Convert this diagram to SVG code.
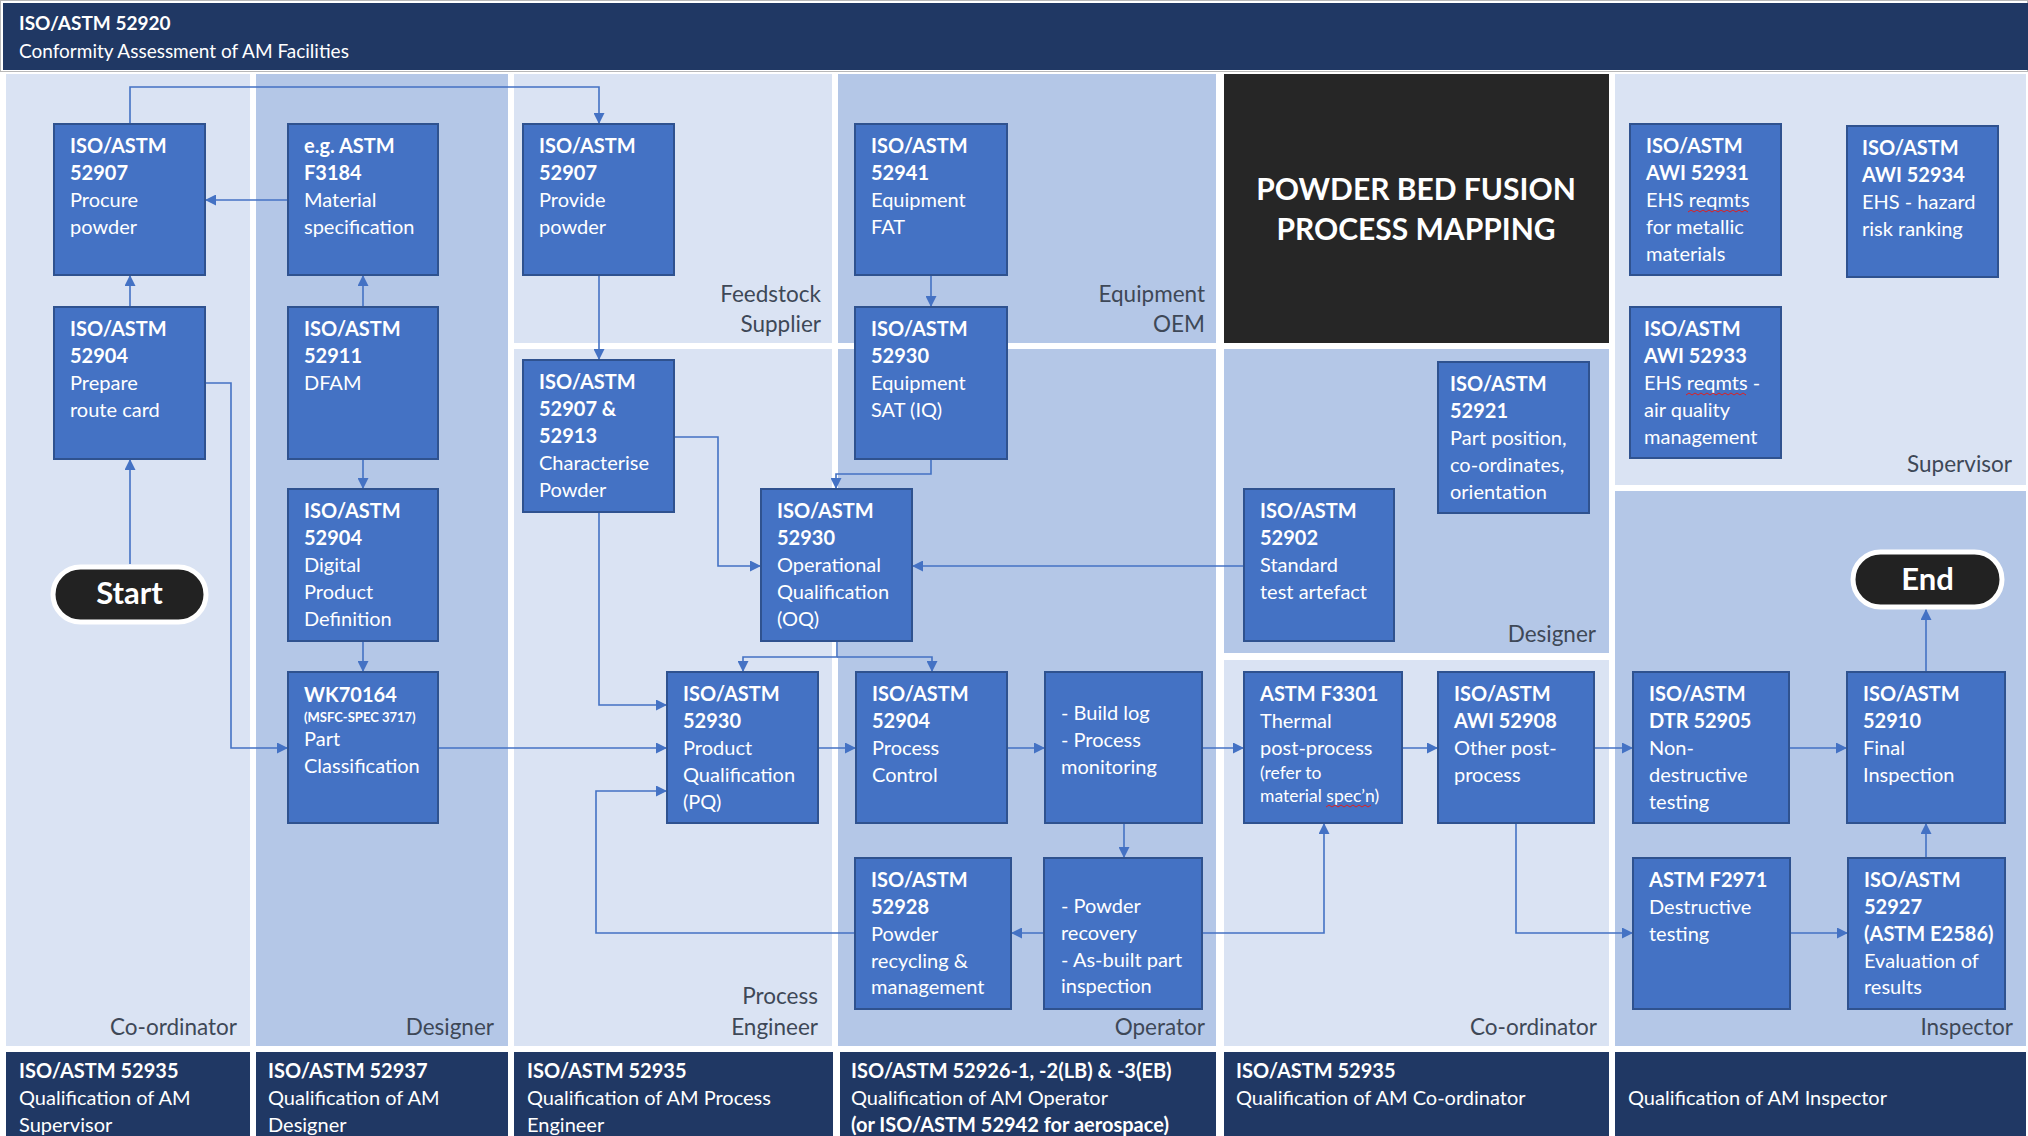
<svg xmlns="http://www.w3.org/2000/svg" width="2028" height="1136" viewBox="0 0 2028 1136">
<defs>
<style>
.lane-l{fill:#DAE3F3}
.lane-m{fill:#B4C7E7}
.navy{fill:#203864}
.box{fill:#4472C4;stroke:#2F528F;stroke-width:2}
.t{font-family:Lato,"Open Sans","Liberation Sans",sans-serif;font-size:20px;fill:#FFFFFF}
.b{font-weight:bold}
.lab{font-family:Lato,"Open Sans","Liberation Sans",sans-serif;font-size:22.5px;fill:#3E4857;text-anchor:end}
.ft{font-family:Lato,"Open Sans","Liberation Sans",sans-serif;font-size:20px;fill:#FFFFFF}
.conn{fill:none;stroke:#4472C4;stroke-width:1.6}
.sq{fill:none;stroke:#E02020;stroke-width:1}
.pill{fill:#222222;stroke:#FFFFFF;stroke-width:5}
</style>
<marker id="arr" viewBox="0 0 10 10" refX="10" refY="5" markerWidth="11" markerHeight="11" markerUnits="userSpaceOnUse" orient="auto">
<path d="M0,0 L10,5 L0,10 z" fill="#4472C4"/>
</marker>
</defs>
<rect x="0" y="0" width="2028" height="1136" fill="#FFFFFF"/>
<!-- title bar -->
<rect x="0.5" y="0.5" width="2027" height="71" fill="none" stroke="#B8B8B8" stroke-width="1"/>
<rect x="3" y="3" width="2025" height="67" class="navy"/>
<text x="19" y="30" class="t b" style="font-size:19px">ISO/ASTM 52920</text>
<text x="19" y="58" class="t" style="font-size:19px">Conformity Assessment of AM Facilities</text>

<!-- lanes -->
<g id="lanes">
<rect x="6" y="74" width="244" height="972" class="lane-l"/>
<rect x="256" y="74" width="252" height="972" class="lane-m"/>
<rect x="514" y="74" width="318" height="269" class="lane-l"/>
<rect x="514" y="349" width="318" height="697" class="lane-l"/>
<rect x="838" y="74" width="378" height="269" class="lane-m"/>
<rect x="838" y="349" width="378" height="697" class="lane-m"/>
<rect x="1224" y="74" width="385" height="269" fill="#262626"/>
<rect x="1224" y="349" width="385" height="304" class="lane-m"/>
<rect x="1224" y="660" width="385" height="386" class="lane-l"/>
<rect x="1615" y="74" width="411" height="411" class="lane-l"/>
<rect x="1615" y="491" width="411" height="555" class="lane-m"/>
</g>
<g id="lane-labels">
<text x="237" y="1035" class="lab">Co-ordinator</text>
<text x="494" y="1035" class="lab">Designer</text>
<text x="821" y="302" class="lab">Feedstock</text>
<text x="821" y="332" class="lab">Supplier</text>
<text x="1205" y="302" class="lab">Equipment</text>
<text x="1205" y="332" class="lab">OEM</text>
<text x="818" y="1004" class="lab">Process</text>
<text x="818" y="1035" class="lab">Engineer</text>
<text x="1205" y="1035" class="lab">Operator</text>
<text x="1596" y="642" class="lab">Designer</text>
<text x="1597" y="1035" class="lab">Co-ordinator</text>
<text x="2012" y="472" class="lab">Supervisor</text>
<text x="2013" y="1035" class="lab">Inspector</text>
</g>
<g id="title-block">
<text x="1416" y="200" class="t b" style="font-size:30px" text-anchor="middle">POWDER BED FUSION</text>
<text x="1416" y="240" class="t b" style="font-size:30px" text-anchor="middle">PROCESS MAPPING</text>
</g>

<!-- footer -->
<g id="footer">
<rect x="6" y="1052" width="244" height="84" class="navy"/>
<rect x="256" y="1052" width="252" height="84" class="navy"/>
<rect x="514" y="1052" width="319" height="84" class="navy"/>
<rect x="840" y="1052" width="376" height="84" class="navy"/>
<rect x="1224" y="1052" width="385" height="84" class="navy"/>
<rect x="1615" y="1052" width="411" height="84" class="navy"/>
<text x="19" y="1078" class="ft b">ISO/ASTM 52935</text>
<text x="19" y="1105" class="ft">Qualification of AM</text>
<text x="19" y="1132" class="ft">Supervisor</text>
<text x="268" y="1078" class="ft b">ISO/ASTM 52937</text>
<text x="268" y="1105" class="ft">Qualification of AM</text>
<text x="268" y="1132" class="ft">Designer</text>
<text x="527" y="1078" class="ft b">ISO/ASTM 52935</text>
<text x="527" y="1105" class="ft">Qualification of AM Process</text>
<text x="527" y="1132" class="ft">Engineer</text>
<text x="851" y="1078" class="ft b">ISO/ASTM 52926-1, -2(LB) &amp; -3(EB)</text>
<text x="851" y="1105" class="ft">Qualification of AM Operator</text>
<text x="851" y="1132" class="ft b">(or ISO/ASTM 52942 for aerospace)</text>
<text x="1236" y="1078" class="ft b">ISO/ASTM 52935</text>
<text x="1236" y="1105" class="ft">Qualification of AM Co-ordinator</text>
<text x="1628" y="1105" class="ft">Qualification of AM Inspector</text>
</g>

<!-- connectors -->
<g id="connectors">
<path class="conn" d="M130,124 V87 H599 V124" marker-end="url(#arr)"/>
<path class="conn" d="M288,200 H205" marker-end="url(#arr)"/>
<path class="conn" d="M130,307 V275" marker-end="url(#arr)"/>
<path class="conn" d="M130,564 V459" marker-end="url(#arr)"/>
<path class="conn" d="M363,307 V275" marker-end="url(#arr)"/>
<path class="conn" d="M363,459 V489" marker-end="url(#arr)"/>
<path class="conn" d="M363,641 V672" marker-end="url(#arr)"/>
<path class="conn" d="M205,383 H231 V748 H288" marker-end="url(#arr)"/>
<path class="conn" d="M599,275 V360" marker-end="url(#arr)"/>
<path class="conn" d="M675,437 H718 V566 H761" marker-end="url(#arr)"/>
<path class="conn" d="M599,512 V705 H667" marker-end="url(#arr)"/>
<path class="conn" d="M438,748 H667" marker-end="url(#arr)"/>
<path class="conn" d="M931,275 V307" marker-end="url(#arr)"/>
<path class="conn" d="M931,459 V474 H836 V489" marker-end="url(#arr)"/>
<path class="conn" d="M1244,566 H912" marker-end="url(#arr)"/>
<path class="conn" d="M837,641 V657 H743 V672" marker-end="url(#arr)"/>
<path class="conn" d="M837,657 H932 V672" marker-end="url(#arr)"/>
<path class="conn" d="M818,748 H856" marker-end="url(#arr)"/>
<path class="conn" d="M1007,748 H1045" marker-end="url(#arr)"/>
<path class="conn" d="M1202,748 H1244" marker-end="url(#arr)"/>
<path class="conn" d="M1124,823 V858" marker-end="url(#arr)"/>
<path class="conn" d="M1044,933 H1011" marker-end="url(#arr)"/>
<path class="conn" d="M855,933 H596 V791 H667" marker-end="url(#arr)"/>
<path class="conn" d="M1202,933 H1324 V823" marker-end="url(#arr)"/>
<path class="conn" d="M1402,748 H1438" marker-end="url(#arr)"/>
<path class="conn" d="M1594,748 H1633" marker-end="url(#arr)"/>
<path class="conn" d="M1516,823 V933 H1633" marker-end="url(#arr)"/>
<path class="conn" d="M1789,748 H1847" marker-end="url(#arr)"/>
<path class="conn" d="M1790,933 H1848" marker-end="url(#arr)"/>
<path class="conn" d="M1926,858 V823" marker-end="url(#arr)"/>
<path class="conn" d="M1926,672 V609" marker-end="url(#arr)"/>
</g>

<!-- nodes -->
<g id="n-start">
<rect x="53" y="567" width="153" height="55" rx="27.5" class="pill"/>
<text x="129.5" y="604" class="t b" style="font-size:31px" text-anchor="middle">Start</text>
</g>
<g id="n-end">
<rect x="1853" y="552" width="149" height="55" rx="27.5" class="pill"/>
<text x="1927.5" y="590" class="t b" style="font-size:31px" text-anchor="middle">End</text>
</g>

<g id="n-procure">
<rect x="54" y="124" width="151" height="151" class="box"/>
<text class="t" x="70"><tspan x="70" y="153" class="b">ISO/ASTM</tspan><tspan x="70" y="180" class="b">52907</tspan><tspan x="70" y="207">Procure</tspan><tspan x="70" y="234">powder</tspan></text>
</g>
<g id="n-matspec">
<rect x="288" y="124" width="150" height="151" class="box"/>
<text class="t"><tspan x="304" y="153" class="b">e.g. ASTM</tspan><tspan x="304" y="180" class="b">F3184</tspan><tspan x="304" y="207">Material</tspan><tspan x="304" y="234">specification</tspan></text>
</g>
<g id="n-provide">
<rect x="523" y="124" width="151" height="151" class="box"/>
<text class="t"><tspan x="539" y="153" class="b">ISO/ASTM</tspan><tspan x="539" y="180" class="b">52907</tspan><tspan x="539" y="207">Provide</tspan><tspan x="539" y="234">powder</tspan></text>
</g>
<g id="n-fat">
<rect x="855" y="124" width="152" height="151" class="box"/>
<text class="t"><tspan x="871" y="153" class="b">ISO/ASTM</tspan><tspan x="871" y="180" class="b">52941</tspan><tspan x="871" y="207">Equipment</tspan><tspan x="871" y="234">FAT</tspan></text>
</g>
<g id="n-52931">
<rect x="1630" y="124" width="151" height="151" class="box"/>
<text class="t"><tspan x="1646" y="153" class="b">ISO/ASTM</tspan><tspan x="1646" y="180" class="b">AWI 52931</tspan><tspan x="1646" y="207">EHS reqmts</tspan><tspan x="1646" y="234">for metallic</tspan><tspan x="1646" y="261">materials</tspan></text>
<polyline class="sq" points="1688,212 1691,210 1694,212 1697,210 1700,212 1703,210 1706,212 1709,210 1712,212 1715,210 1718,212 1721,210 1724,212 1727,210 1730,212 1733,210 1736,212 1739,210 1742,212 1745,210 1748,212"/>
</g>
<g id="n-52934">
<rect x="1847" y="126" width="151" height="151" class="box"/>
<text class="t"><tspan x="1862" y="155" class="b">ISO/ASTM</tspan><tspan x="1862" y="182" class="b">AWI 52934</tspan><tspan x="1862" y="209">EHS - hazard</tspan><tspan x="1862" y="236">risk ranking</tspan></text>
</g>
<g id="n-route">
<rect x="54" y="307" width="151" height="152" class="box"/>
<text class="t"><tspan x="70" y="336" class="b">ISO/ASTM</tspan><tspan x="70" y="363" class="b">52904</tspan><tspan x="70" y="390">Prepare</tspan><tspan x="70" y="417">route card</tspan></text>
</g>
<g id="n-dfam">
<rect x="288" y="307" width="150" height="152" class="box"/>
<text class="t"><tspan x="304" y="336" class="b">ISO/ASTM</tspan><tspan x="304" y="363" class="b">52911</tspan><tspan x="304" y="390">DFAM</tspan></text>
</g>
<g id="n-sat">
<rect x="855" y="307" width="152" height="152" class="box"/>
<text class="t"><tspan x="871" y="336" class="b">ISO/ASTM</tspan><tspan x="871" y="363" class="b">52930</tspan><tspan x="871" y="390">Equipment</tspan><tspan x="871" y="417">SAT (IQ)</tspan></text>
</g>
<g id="n-52933">
<rect x="1630" y="307" width="151" height="151" class="box"/>
<text class="t"><tspan x="1644" y="336" class="b">ISO/ASTM</tspan><tspan x="1644" y="363" class="b">AWI 52933</tspan><tspan x="1644" y="390">EHS reqmts -</tspan><tspan x="1644" y="417">air quality</tspan><tspan x="1644" y="444">management</tspan></text>
<polyline class="sq" points="1686,395 1689,393 1692,395 1695,393 1698,395 1701,393 1704,395 1707,393 1710,395 1713,393 1716,395 1719,393 1722,395 1725,393 1728,395 1731,393 1734,395 1737,393 1740,395 1743,393 1746,395"/>
</g>
<g id="n-char">
<rect x="523" y="360" width="151" height="152" class="box"/>
<text class="t"><tspan x="539" y="389" class="b">ISO/ASTM</tspan><tspan x="539" y="416" class="b">52907 &amp;</tspan><tspan x="539" y="443" class="b">52913</tspan><tspan x="539" y="470">Characterise</tspan><tspan x="539" y="497">Powder</tspan></text>
</g>
<g id="n-52921">
<rect x="1438" y="362" width="151" height="151" class="box"/>
<text class="t"><tspan x="1450" y="391" class="b">ISO/ASTM</tspan><tspan x="1450" y="418" class="b">52921</tspan><tspan x="1450" y="445">Part position,</tspan><tspan x="1450" y="472">co-ordinates,</tspan><tspan x="1450" y="499">orientation</tspan></text>
</g>
<g id="n-dpd">
<rect x="288" y="489" width="150" height="152" class="box"/>
<text class="t"><tspan x="304" y="518" class="b">ISO/ASTM</tspan><tspan x="304" y="545" class="b">52904</tspan><tspan x="304" y="572">Digital</tspan><tspan x="304" y="599">Product</tspan><tspan x="304" y="626">Definition</tspan></text>
</g>
<g id="n-oq">
<rect x="761" y="489" width="151" height="152" class="box"/>
<text class="t"><tspan x="777" y="518" class="b">ISO/ASTM</tspan><tspan x="777" y="545" class="b">52930</tspan><tspan x="777" y="572">Operational</tspan><tspan x="777" y="599">Qualification</tspan><tspan x="777" y="626">(OQ)</tspan></text>
</g>
<g id="n-52902">
<rect x="1244" y="489" width="150" height="152" class="box"/>
<text class="t"><tspan x="1260" y="518" class="b">ISO/ASTM</tspan><tspan x="1260" y="545" class="b">52902</tspan><tspan x="1260" y="572">Standard</tspan><tspan x="1260" y="599">test artefact</tspan></text>
</g>
<g id="n-partclass">
<rect x="288" y="672" width="150" height="151" class="box"/>
<text class="t"><tspan x="304" y="702" class="b">WK70164</tspan><tspan x="304" y="722" class="b" style="font-size:13px">(MSFC-SPEC 3717)</tspan><tspan x="304" y="746">Part</tspan><tspan x="304" y="773">Classification</tspan></text>
</g>
<g id="n-pq">
<rect x="667" y="672" width="151" height="151" class="box"/>
<text class="t"><tspan x="683" y="701" class="b">ISO/ASTM</tspan><tspan x="683" y="728" class="b">52930</tspan><tspan x="683" y="755">Product</tspan><tspan x="683" y="782">Qualification</tspan><tspan x="683" y="809">(PQ)</tspan></text>
</g>
<g id="n-pc">
<rect x="856" y="672" width="151" height="151" class="box"/>
<text class="t"><tspan x="872" y="701" class="b">ISO/ASTM</tspan><tspan x="872" y="728" class="b">52904</tspan><tspan x="872" y="755">Process</tspan><tspan x="872" y="782">Control</tspan></text>
</g>
<g id="n-buildlog">
<rect x="1045" y="672" width="157" height="151" class="box"/>
<text class="t"><tspan x="1061" y="720">- Build log</tspan><tspan x="1061" y="747">- Process</tspan><tspan x="1061" y="774">monitoring</tspan></text>
</g>
<g id="n-thermal">
<rect x="1244" y="672" width="158" height="151" class="box"/>
<text class="t"><tspan x="1260" y="701" class="b">ASTM F3301</tspan><tspan x="1260" y="728">Thermal</tspan><tspan x="1260" y="755">post-process</tspan><tspan x="1260" y="779" style="font-size:17.5px">(refer to</tspan><tspan x="1260" y="802" style="font-size:17.5px">material spec’n)</tspan></text>
<polyline class="sq" points="1326,807 1329,805 1332,807 1335,805 1338,807 1341,805 1344,807 1347,805 1350,807 1353,805 1356,807 1359,805 1362,807 1365,805 1368,807 1371,805"/>
</g>
<g id="n-otherpost">
<rect x="1438" y="672" width="156" height="151" class="box"/>
<text class="t"><tspan x="1454" y="701" class="b">ISO/ASTM</tspan><tspan x="1454" y="728" class="b">AWI 52908</tspan><tspan x="1454" y="755">Other post-</tspan><tspan x="1454" y="782">process</tspan></text>
</g>
<g id="n-ndt">
<rect x="1633" y="672" width="156" height="151" class="box"/>
<text class="t"><tspan x="1649" y="701" class="b">ISO/ASTM</tspan><tspan x="1649" y="728" class="b">DTR 52905</tspan><tspan x="1649" y="755">Non-</tspan><tspan x="1649" y="782">destructive</tspan><tspan x="1649" y="809">testing</tspan></text>
</g>
<g id="n-final">
<rect x="1847" y="672" width="158" height="151" class="box"/>
<text class="t"><tspan x="1863" y="701" class="b">ISO/ASTM</tspan><tspan x="1863" y="728" class="b">52910</tspan><tspan x="1863" y="755">Final</tspan><tspan x="1863" y="782">Inspection</tspan></text>
</g>
<g id="n-recycle">
<rect x="855" y="858" width="156" height="151" class="box"/>
<text class="t"><tspan x="871" y="887" class="b">ISO/ASTM</tspan><tspan x="871" y="914" class="b">52928</tspan><tspan x="871" y="941">Powder</tspan><tspan x="871" y="968">recycling &amp;</tspan><tspan x="871" y="994">management</tspan></text>
</g>
<g id="n-recovery">
<rect x="1044" y="858" width="158" height="151" class="box"/>
<text class="t"><tspan x="1061" y="913">- Powder</tspan><tspan x="1061" y="940">recovery</tspan><tspan x="1061" y="967">- As-built part</tspan><tspan x="1061" y="993">inspection</tspan></text>
</g>
<g id="n-destr">
<rect x="1633" y="858" width="157" height="151" class="box"/>
<text class="t"><tspan x="1649" y="887" class="b">ASTM F2971</tspan><tspan x="1649" y="914">Destructive</tspan><tspan x="1649" y="941">testing</tspan></text>
</g>
<g id="n-52927">
<rect x="1848" y="858" width="157" height="151" class="box"/>
<text class="t"><tspan x="1864" y="887" class="b">ISO/ASTM</tspan><tspan x="1864" y="914" class="b">52927</tspan><tspan x="1864" y="941" class="b">(ASTM E2586)</tspan><tspan x="1864" y="968">Evaluation of</tspan><tspan x="1864" y="994">results</tspan></text>
</g>
</svg>
